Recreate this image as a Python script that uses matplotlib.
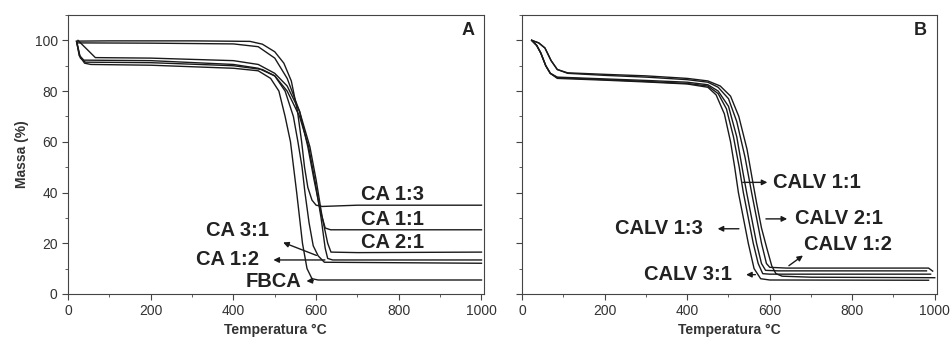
import matplotlib
matplotlib.use("Agg")
import matplotlib.pyplot as plt
from matplotlib.ticker import MultipleLocator

plt.rcParams['font.family'] = ['Liberation Sans', 'DejaVu Sans']

# Panel A - CA samples
fbca_x = [21, 27, 40, 55, 200, 400, 460, 490, 510, 525, 538, 553, 567, 578, 590, 605, 1000]
fbca_y = [99.5, 94, 91, 90.5, 90.2, 89, 88, 85, 80, 70, 60, 40, 20, 10, 6, 5.5, 5.5]

ca13_x = [20, 100, 300, 440, 470, 500, 522, 540, 555, 565, 572, 580, 590, 600, 615, 700, 1000]
ca13_y = [99.7, 99.8, 99.8, 99.6, 98.5, 95.5, 91, 84, 72, 60, 50, 42, 37, 35, 34.5, 35, 35]

ca11_x = [22, 200, 400, 460, 500, 530, 560, 580, 595, 610, 622, 635, 1000]
ca11_y = [99, 98.9, 98.6, 97.5, 93, 85, 72, 58, 45, 33, 26, 25.3, 25.3]

ca21_x = [24, 66, 200, 400, 460, 500, 530, 560, 585, 600, 615, 628, 636, 700, 1000]
ca21_y = [100, 93.2, 93, 92, 90.5, 87, 82, 72, 58, 45, 30, 20, 16.5, 16.3, 16.5]

ca12_x = [21, 28, 38, 200, 400, 460, 500, 530, 560, 582, 598, 612, 622, 628, 640, 1000]
ca12_y = [99, 94, 92.2, 92, 90.5, 89, 86, 80, 70, 58, 44, 30, 18, 14, 13.4, 13.4]

ca31_x = [21, 30, 42, 200, 400, 470, 500, 525, 545, 556, 566, 573, 583, 593, 605, 620, 1000]
ca31_y = [99.5, 93, 91.4, 91.2, 90, 88.5, 86, 80, 70, 60, 50, 40, 28, 19, 15, 12.5, 12.1]

# Panel B - CALV samples
calv21_x = [23, 40, 55, 70, 85, 110, 200, 300, 400, 450, 480, 505, 525, 545, 558, 568, 580, 593, 605, 615, 630, 700, 1000]
calv21_y = [100, 99, 97, 92, 88.5, 87.2, 86.6, 86, 85, 84, 82, 78, 70, 57, 45, 36, 26, 18, 11, 8, 7, 6.6, 6.4]

calv12_x = [23, 40, 55, 70, 85, 110, 200, 300, 400, 450, 475, 500, 520, 540, 556, 568, 580, 592, 600, 640, 985, 995]
calv12_y = [100, 99, 97, 92, 88.5, 87, 86.2, 85.5, 84.5, 83.5, 81.5, 77, 68, 54, 40, 30, 20, 12, 10.5, 10.2, 10.2, 9]

calv11_x = [23, 35, 45, 57, 68, 85, 200, 300, 400, 450, 475, 500, 520, 535, 544, 556, 568, 580, 590, 620, 980]
calv11_y = [100, 98, 95, 90, 87, 85.5, 84.8, 84.2, 83.5, 82.5, 80, 74, 62, 48, 40, 30, 20, 12, 9.3, 9.1, 9.1]

calv31_x = [23, 35, 45, 57, 68, 85, 200, 300, 400, 450, 475, 495, 512, 526, 536, 548, 560, 572, 583, 600, 990]
calv31_y = [100, 98, 95, 90, 87, 85.3, 84.5, 83.8, 83, 82, 79, 73, 62, 50, 40, 30, 20, 12, 8, 7.8, 7.8]

calv13_x = [23, 35, 45, 57, 68, 85, 200, 300, 400, 450, 470, 490, 505, 515, 524, 536, 548, 562, 578, 600, 985]
calv13_y = [100, 98, 95, 90, 87, 85, 84.3, 83.6, 82.8, 81.5, 78.5, 71, 60, 50, 40, 30, 20, 10, 6, 5.5, 5.4]

fig = plt.figure(figsize=(9.53, 3.41), dpi=100)
axA = fig.add_axes([0.0714, 0.138, 0.436, 0.818])
axB = fig.add_axes([0.548, 0.138, 0.435, 0.818])

lc = '#1a1a1a'
for x, y in [(fbca_x, fbca_y), (ca13_x, ca13_y), (ca11_x, ca11_y),
             (ca21_x, ca21_y), (ca12_x, ca12_y), (ca31_x, ca31_y)]:
    axA.plot(x, y, color=lc, lw=1.0)

for x, y in [(calv21_x, calv21_y), (calv12_x, calv12_y), (calv11_x, calv11_y),
             (calv31_x, calv31_y), (calv13_x, calv13_y)]:
    axB.plot(x, y, color=lc, lw=1.0)

for ax in (axA, axB):
    ax.set_xlim(0, 1005)
    ax.set_ylim(0, 110)
    ax.xaxis.set_major_locator(MultipleLocator(200))
    ax.xaxis.set_minor_locator(MultipleLocator(100))
    ax.yaxis.set_major_locator(MultipleLocator(20))
    ax.yaxis.set_minor_locator(MultipleLocator(10))
    ax.tick_params(which='both', direction='out', color='#444', labelsize=10, labelcolor='#333')
    ax.tick_params(which='major', length=4)
    ax.tick_params(which='minor', length=2)
    for s in ax.spines.values():
        s.set_color('#444')
    ax.set_xlabel('Temperatura °C', fontsize=10, fontweight='bold', color='#333', labelpad=3)

axA.set_ylabel('Massa (%)', fontsize=10, fontweight='bold', color='#333')
axB.tick_params(axis='y', labelleft=False)

axA.text(984, 104, 'A', ha='right', va='center', fontsize=13, fontweight='bold', color='#222')
axB.text(980, 104, 'B', ha='right', va='center', fontsize=13, fontweight='bold', color='#222')

tkw = dict(fontsize=14.5, fontweight='bold', color='#222', va='center')
arr = dict(arrowstyle='-|>', color=lc, lw=1.0, mutation_scale=8)

# labels panel A
axA.text(708, 39.4, 'CA 1:3', ha='left', **tkw)
axA.text(708, 29.2, 'CA 1:1', ha='left', **tkw)
axA.text(708, 20.4, 'CA 2:1', ha='left', **tkw)
axA.text(486, 25, 'CA 3:1', ha='right', **tkw)
axA.text(462, 13.4, 'CA 1:2', ha='right', **tkw)
axA.text(564, 5.0, 'FBCA', ha='right', **tkw)
axA.annotate('', xy=(514, 20.7), xytext=(607, 14.8), arrowprops=arr)
axA.annotate('', xy=(490, 13.4), xytext=(628, 13.4), arrowprops=arr)
axA.annotate('', xy=(570, 5.0), xytext=(600, 5.3), arrowprops=arr)

# labels panel B
axB.text(609, 44, 'CALV 1:1', ha='left', **tkw)
axB.text(661, 29.6, 'CALV 2:1', ha='left', **tkw)
axB.text(438, 25.7, 'CALV 1:3', ha='right', **tkw)
axB.text(682, 19.5, 'CALV 1:2', ha='left', **tkw)
axB.text(507, 7.6, 'CALV 3:1', ha='right', **tkw)
axB.annotate('', xy=(601, 44), xytext=(528, 44), arrowprops=arr)
axB.annotate('', xy=(649, 29.6), xytext=(584, 29.6), arrowprops=arr)
axB.annotate('', xy=(467, 25.7), xytext=(532, 25.7), arrowprops=arr)
axB.annotate('', xy=(686, 15.8), xytext=(641, 10.5), arrowprops=arr)
axB.annotate('', xy=(536, 7.6), xytext=(572, 7.6), arrowprops=arr)

fig.savefig('out.png', dpi=100)
